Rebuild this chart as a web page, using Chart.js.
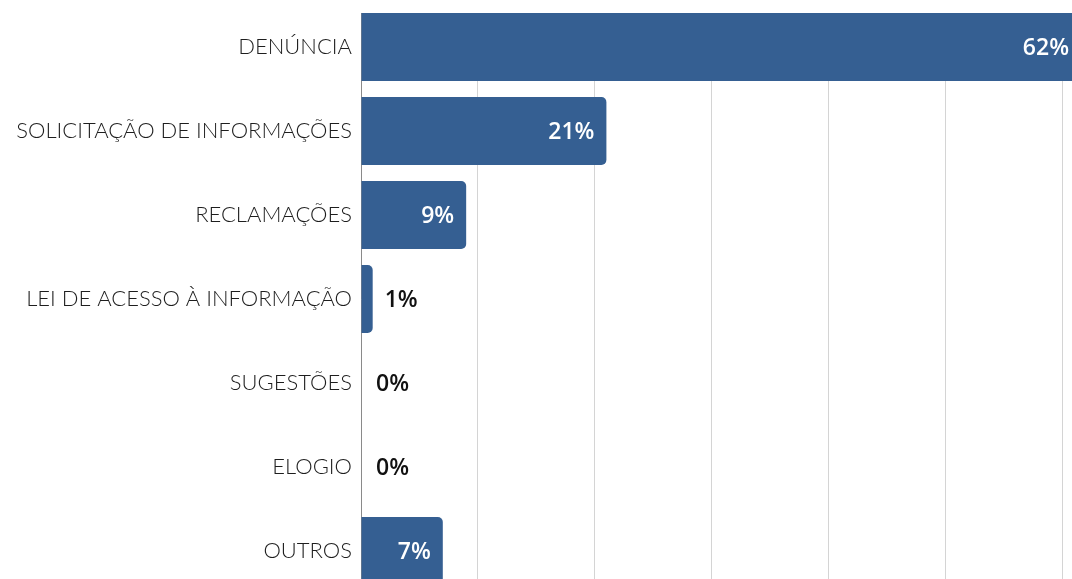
<!DOCTYPE html>
<html>
<head>
<meta charset="utf-8">
<script src="https://cdn.jsdelivr.net/npm/chart.js@4/dist/chart.umd.min.js"></script>
<style>
  html, body { margin: 0; padding: 0; background: #fff; overflow: hidden; }
</style>
</head>
<body>
<canvas id="manifestacoesChart" width="1190" height="600"></canvas>
<script>
const categories = [
    "DENÚNCIA",
    "SOLICITAÇÃO DE INFORMAÇÕES",
    "RECLAMAÇÕES",
    "LEI DE ACESSO À INFORMAÇÃO",
    "SUGESTÕES",
    "ELOGIO",
    "OUTROS"
];

const percentValues = [62, 21, 9, 1, 0, 0, 7];

const barColor = '#355f92';

// the page is narrower than the canvas, keep labels inside the visible part
const visibleRight = 1069;

// grid and axis start at the top of the first bar, not at the chart area top
const trimTop = {
    id: 'trimTop',
    beforeDatasetsDraw(chart) {
        const first = chart.getDatasetMeta(0).data[0];
        const top = first.y - first.height / 2;
        const ctx = chart.ctx;
        ctx.save();
        ctx.fillStyle = '#ffffff';
        ctx.fillRect(0, 0, chart.width, top);
        ctx.restore();
    }
};

// draws the "62%" style labels at the end of each bar
const valueLabels = {
    id: 'valueLabels',
    afterDatasetsDraw(chart) {
        const ctx = chart.ctx;
        const meta = chart.getDatasetMeta(0);
        ctx.save();
        ctx.font = '600 23px "Open Sans"';
        ctx.textBaseline = 'middle';
        meta.data.forEach((bar, i) => {
            const value = percentValues[i];
            const label = value + '%';
            if (value >= 5) {
                ctx.fillStyle = '#ffffff';
                ctx.textAlign = 'right';
                ctx.fillText(label, Math.min(bar.x - 12, visibleRight), bar.y + 1);
            } else {
                ctx.fillStyle = '#111111';
                ctx.textAlign = 'left';
                ctx.fillText(label, bar.x + (value > 0 ? 12 : 15), bar.y + 1);
            }
        });
        ctx.restore();
    }
};

const canvasRef = document.getElementById('manifestacoesChart').getContext('2d');

new Chart(canvasRef, {
    type: 'bar',
    data: {
        labels: categories,
        datasets: [
            {
                data: percentValues,
                backgroundColor: barColor,
                borderRadius: 5,
                borderSkipped: 'start',
                categoryPercentage: 1,
                barPercentage: 0.81
            }
        ]
    },
    options: {
        indexAxis: 'y',
        responsive: false,
        animation: false,
        layout: {
            padding: { top: 5, right: 11, bottom: 7, left: 0 }
        },
        plugins: {
            legend: { display: false },
            tooltip: { enabled: false }
        },
        scales: {
            x: {
                min: 0,
                max: 70,
                ticks: { display: false, stepSize: 10 },
                grid: { color: '#d4d4d4', lineWidth: 1, drawTicks: false },
                border: { display: false },
                afterFit(scale) {
                    scale.height = 0;
                    scale.paddingLeft = 0;
                    scale.paddingRight = 0;
                }
            },
            y: {
                ticks: {
                    color: '#1e1e1e',
                    font: { family: 'Lato', size: 22, weight: 300 },
                    padding: 9
                },
                grid: { display: false, drawTicks: false },
                border: { display: true, color: '#8a8a8a', width: 1 },
                afterFit(scale) {
                    scale.width = 361;
                    scale.paddingTop = 0;
                    scale.paddingBottom = 0;
                }
            }
        }
    },
    plugins: [trimTop, valueLabels]
});
</script>
</body>
</html>
